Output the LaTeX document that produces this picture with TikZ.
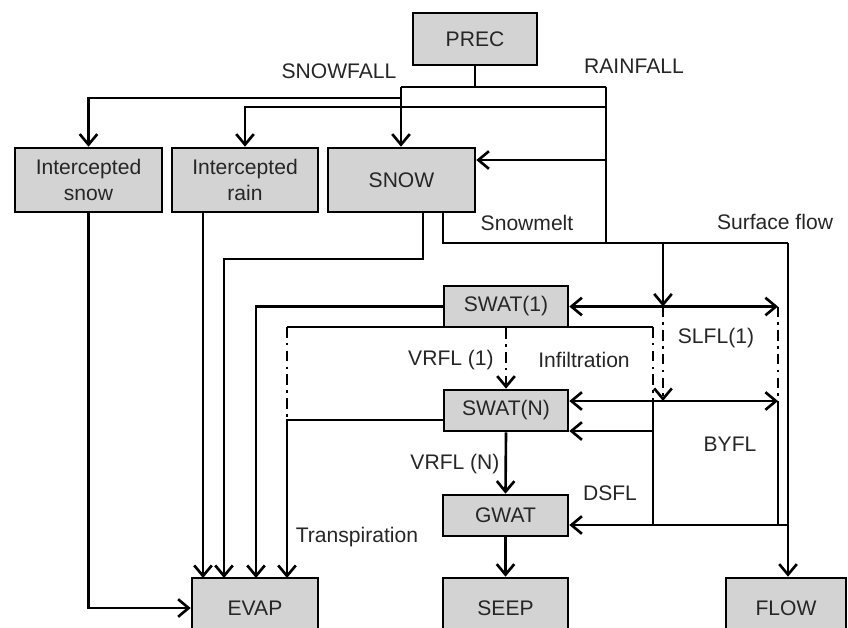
\documentclass[tikz,border=0pt]{standalone}
\usepackage{fontspec}
\setmainfont{Liberation Sans}
\usetikzlibrary{arrows.meta}
\definecolor{storecolor}{RGB}{211,211,211}

\begin{document}
\begin{tikzpicture}[x=0.02cm,y=-0.02cm,line width=1.5pt,>={Straight Barb[length=6pt,width=10pt]},
  every node/.style={font=\fontsize{12pt}{14.5pt}\selectfont,text=black!85},
  store/.style={draw,fill=storecolor,align=center,inner sep=0pt},
  dashdot/.style={dash pattern=on 6pt off 3pt on 1.5pt off 3pt}]
\useasboundingbox (0,0) rectangle (848,627);
\clip (0,0) rectangle (848,627);
% storages
\node[store,minimum width=2.48cm,minimum height=1.04cm](prec) at (475,39) {PREC};
\node[store,minimum width=2.94cm,minimum height=1.28cm](isnow) at (88.5,180) {Intercepted\\snow};
\node[store,minimum width=2.92cm,minimum height=1.28cm](irain) at (245,180) {Intercepted\\rain};
\node[store,minimum width=2.94cm,minimum height=1.28cm](snow) at (401.5,180) {SNOW};
\node[store,minimum width=2.48cm,minimum height=0.82cm](swat1) at (506,306.5) {SWAT(1)};
\node[store,minimum width=2.48cm,minimum height=0.82cm](swatn) at (506,410.5) {SWAT(N)};
\node[store,minimum width=2.5cm,minimum height=0.82cm](gwat) at (505.5,515.5) {GWAT};
\node[store,minimum width=2.52cm,minimum height=1.2cm](evap) at (255,608) {EVAP};
\node[store,minimum width=2.5cm,minimum height=1.2cm](seep) at (505.5,608) {SEEP};
\node[store,minimum width=2.4cm,minimum height=1.2cm](flow) at (786,608) {FLOW};
% flux labels
\node(lsnowfall) at (339,71) {SNOWFALL};
\node(lrainfall) at (634,66) {RAINFALL};
\node(lmelt) at (527,223) {Snowmelt};
\node(lsurf) at (775,222) {Surface flow};
\node(lvrfl1) at (451,360) {VRFL (1)};
\node(linf) at (584,360) {Infiltration};
\node(lslfl) at (716,338) {SLFL(1)};
\node(lvrfln) at (455,464) {VRFL (N)};
\node(lbyfl) at (730,444) {BYFL};
\node(ldsfl) at (610,493) {DSFL};
\node(ltransp) at (357,537) {Transpiration};
% junctions
\coordinate (sfl) at (401,87); \coordinate (rfl) at (606,87);
\coordinate (sbr) at (401,98); \coordinate (rbr) at (606,107); \coordinate (rsn) at (606,160);
\coordinate (melt) at (443,243); \coordinate (inf) at (663,243); \coordinate (surf) at (788,243);
\coordinate (sev) at (423,259);
\coordinate (ev1) at (203,578); \coordinate (ev2) at (224,578); \coordinate (ev3) at (256,578); \coordinate (ev4) at (287,578);
\coordinate (tl) at (287,327); \coordinate (tr) at (287,420); \coordinate (ts) at (653,327);
\coordinate (by) at (778,401); \coordinate (dsn) at (653,431); \coordinate (gw) at (788,525);
% precipitation
\draw (prec.south) -- (prec.south |- sfl); \draw (sfl) -- (rfl);
\draw[->] (sfl) -- (sfl |- snow.north); \draw[->] (sbr) -| (isnow.north);
\draw (rfl) -- (rfl |- melt); \draw[->] (rbr) -| (irain.north); \draw[->] (rsn) -- (rsn -| snow.east);
% snowmelt, surface flow, infiltration
\draw (melt |- snow.south) -- (melt) -- (surf); \draw[->] (surf) -- (surf |- flow.north);
\draw[->] (inf) -- (inf |- swat1.east); \draw[->,dashdot] (inf |- swat1.east) -- (inf |- by);
% evaporation and transpiration
\draw[->] (isnow.south) |- (evap.west);
\draw[->] (ev1 |- irain.south) -- (ev1);
\draw[->] (sev |- snow.south) -- (sev) -| (ev2);
\draw[->] (swat1.west) -| (ev3);
\draw[->] (tr -| swatn.west) -- (tr) -- (ev4);
\draw (tl) -- (ts); \draw[dashdot] (tl) -- (tr); \draw[dashdot] (ts) -- (ts |- by);
% lateral flows
\draw[<->] (swat1.east) -- (swat1.east -| by); \draw[dashdot] (swat1.east -| by) -- (by);
\draw[<->] (by -| swatn.east) -- (by);
\draw (by) -- (by |- gw); \draw (ts |- by) -- (ts |- gw);
\draw[->] (dsn) -- (dsn -| swatn.east); \draw[->] (gw) -- (gw -| gwat.east);
% vertical drainage
\draw[->,dashdot] (swat1.south) -- (swatn.north); \draw[->] (swatn.south) -- (gwat.north); \draw[->] (gwat.south) -- (seep.north);
\end{tikzpicture}
\end{document}
